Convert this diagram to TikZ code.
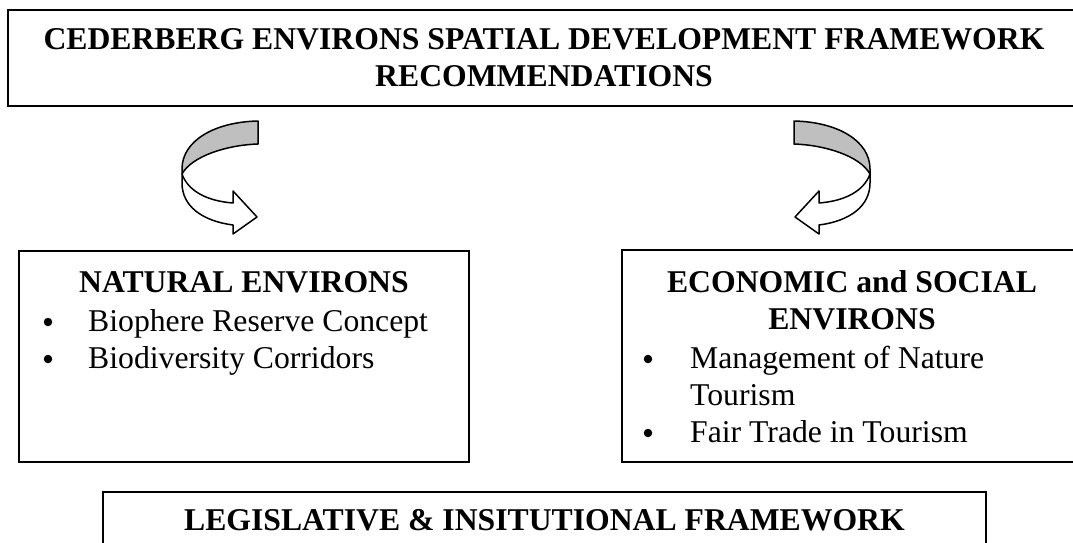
\documentclass[tikz,border=0pt]{standalone}
\usepackage{fontspec}
\setmainfont{Liberation Serif}
\usepackage{tikz}
\usetikzlibrary{positioning}

\tikzset{
  box/.style={draw, line width=1.6pt, rectangle, inner sep=0pt},
  txt/.style={inner sep=0pt, font=\fontsize{31.7}{36.5}\selectfont},
  title/.style={txt, anchor=base, font=\fontsize{31.7}{36.5}\selectfont\bfseries},
  item/.style={txt, anchor=base west},
  dot/.style={circle, fill, inner sep=0pt, minimum size=8.5pt},
  twistarrow/.pic={
    % shaded top of the ribbon
    \filldraw[line width=1.5pt, fill=black!25, line join=round]
      (76,0) .. controls (32,1) and (0,20) .. (0,48) -- (0,53)
      .. controls (10,35) and (45,24) .. (76,23) -- cycle;
    % lower part with the head
    \filldraw[line width=1.5pt, fill=white, line join=round]
      (0,53) .. controls (6,70) and (25,80) .. (51,82) -- (51,70) -- (75,96)
      -- (51,113) -- (51,104) .. controls (20,100) and (0,85) .. (0,62) -- cycle;
  }
}

\begin{document}
\begin{tikzpicture}[x=1pt, y=-1pt]
    \useasboundingbox (0,0) rectangle (1073,543);
    \clip (0,0) rectangle (1073,543);

    % Boxes
    \node[box, minimum width=1072pt, minimum height=96pt] (sdf) at (544,58) {};
    \node[box, minimum width=450pt, minimum height=211pt] (natural) at (244,356.5) {};
    \node[box, minimum width=460pt, minimum height=212pt] (econ) at (852,356) {};
    \node[box, minimum width=883pt, minimum height=68pt] (legal) at (544.5,526) {};

    % Top box text
    \node[title] (sdfA) at (544,49.5) {CEDERBERG ENVIRONS SPATIAL DEVELOPMENT FRAMEWORK};
    \node[title] (sdfB) at (544,86) {RECOMMENDATIONS};

    % Natural environs
    \node[title] (natT) at (244,292.5) {NATURAL ENVIRONS};
    \node[dot] (natB1) at (48,322) {};
    \node[item] (nat1) at (88,331.5) {Biophere Reserve Concept};
    \node[dot] (natB2) at (48,359) {};
    \node[item] (nat2) at (88,368.5) {Biodiversity Corridors};

    % Economic and social environs
    \node[title] (ecoT) at (852,292.5) {ECONOMIC and SOCIAL};
    \node[title] (ecoT2) at (852,329) {ENVIRONS};
    \node[dot] (ecoB1) at (648,359) {};
    \node[item] (eco1) at (690,368.5) {Management of Nature};
    \node[item] (eco1b) at (690,405.5) {Tourism};
    \node[dot] (ecoB2) at (648,433) {};
    \node[item] (eco2) at (690,442.5) {Fair Trade in Tourism};

    % Bottom box text
    \node[title] (legalT) at (544.5,530.5) {LEGISLATIVE \& INSITUTIONAL FRAMEWORK};

    % Curved arrows
    \pic at (182,121) {twistarrow};
    \pic[xscale=-1] at (870,121) {twistarrow};
\end{tikzpicture}
\end{document}
